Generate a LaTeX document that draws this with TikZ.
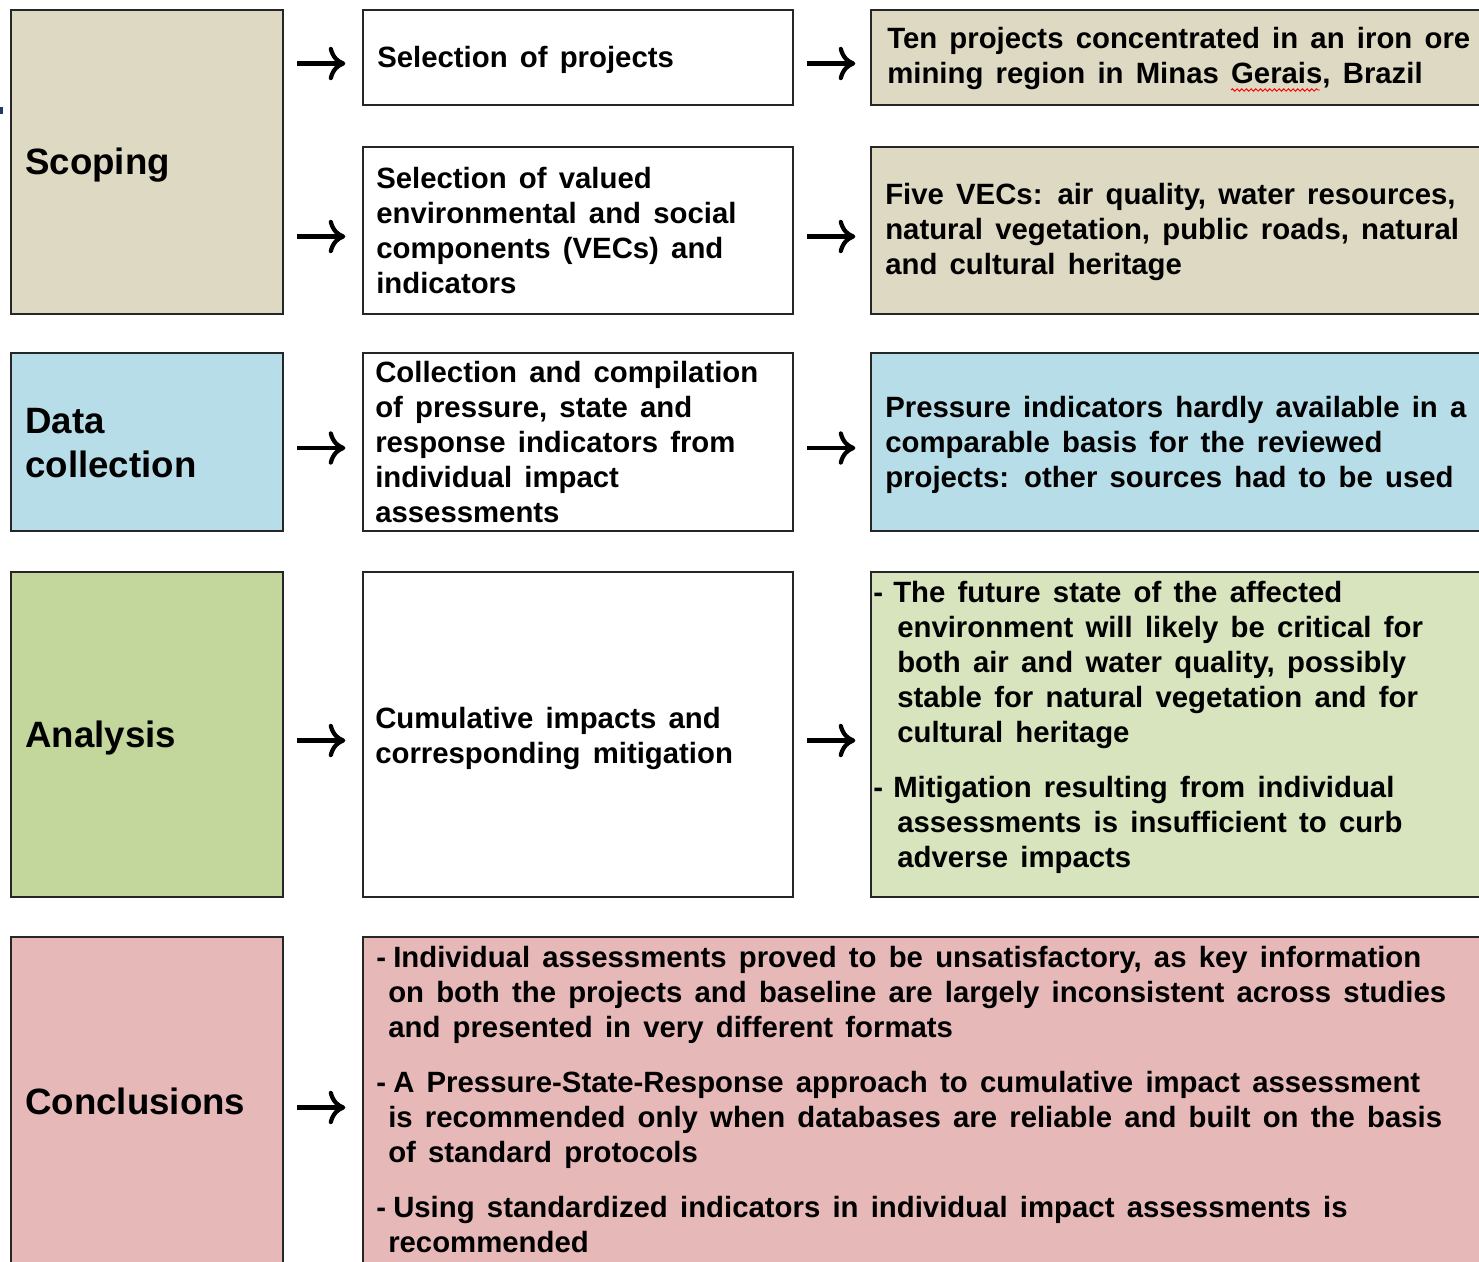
\documentclass[tikz,border=0pt]{standalone}
\usepackage{fontspec}
\setmainfont{Liberation Sans}
\newfontfamily\widefont{Liberation Sans}[WordSpace=1.5]
\usetikzlibrary{arrows.meta,calc,fit,decorations.pathmorphing}

\definecolor{beige}{HTML}{DDD9C3}
\definecolor{aqua}{HTML}{B7DEE8}
\definecolor{olive}{HTML}{C3D69B}
\definecolor{lolive}{HTML}{D7E4BD}
\definecolor{rose}{HTML}{E6B9B8}
\definecolor{edge}{HTML}{262626}
\definecolor{markblue}{HTML}{1F3864}

% bullet dash and hanging indent helpers
\newcommand\rdash{\makebox[15pt][l]{-}}
\newcommand\rind{\hspace*{18pt}}
\newcommand\cdash{\makebox[12.75pt][l]{-}}
\newcommand\cind{\hspace*{9pt}}

\begin{document}
\begin{tikzpicture}[x=0.75pt,y=-0.75pt,
  box/.style={draw=edge, line width=1.5pt, inner sep=0pt},
  stage/.style={anchor=west, inner sep=0pt, align=left,
    font=\fontsize{27.5}{32.5}\selectfont\bfseries},
  body/.style={anchor=west, inner sep=0pt, align=left,
    font=\widefont\fontsize{22}{26.25}\selectfont\bfseries},
  arr/.style={line width=3.2pt,
    -{Computer Modern Rightarrow[length=12.5pt,width=25pt]},
    shorten <=10pt, shorten >=12.5pt},
  spell/.style={red, line width=0.7pt, decorate,
    decoration={snake, amplitude=0.9pt, segment length=3.5pt}}]

\useasboundingbox (0,0) rectangle (1479,1262);
\clip (0,0) rectangle (1479,1262);

% small mark at the left edge
\fill[markblue] (0,107) rectangle (3,114);

% ---- boxes ----
\node[box, fill=beige,  fit={(11,10)(283,314)}]    (scop)  {};
\node[box, fill=white,  fit={(363,10)(793,105)}]   (sel1)  {};
\node[box, fill=beige,  fit={(871,10)(1495,105)}]  (res1)  {};
\node[box, fill=white,  fit={(363,147)(793,314)}]  (sel2)  {};
\node[box, fill=beige,  fit={(871,147)(1495,314)}] (res2)  {};

\node[box, fill=aqua,   fit={(11,353)(283,531)}]   (data)  {};
\node[box, fill=white,  fit={(363,353)(793,531)}]  (coll)  {};
\node[box, fill=aqua,   fit={(871,353)(1495,531)}] (res3)  {};

\node[box, fill=olive,  fit={(11,572)(283,897)}]   (anal)  {};
\node[box, fill=white,  fit={(363,572)(793,897)}]  (cumu)  {};
\node[box, fill=lolive, fit={(871,572)(1495,897)}] (res4)  {};

\node[box, fill=rose,   fit={(11,937)(283,1266)}]  (conc)  {};
\node[box, fill=rose,   fit={(363,937)(1495,1266)}] (res5) {};

% ---- stage labels ----
\node[stage] (tscop) at (25,165) {Scoping};
\node[stage] (tdata) at (25,443) {Data\\collection};
\node[stage] (tanal) at (25,738) {Analysis};
\node[stage] (tconc) at (25,1101) {Conclusions};

% ---- step texts ----
\node[body] (tsel1) at (377,60) {Selection of projects};
\node[body] (tsel2) at (376,231) {Selection of valued\\environmental and social\\components (VECs) and\\indicators};
\node[body] (tcoll) at (375,442) {Collection and compilation\\of pressure, state and\\response indicators from\\individual impact\\assessments};
\node[body] (tcumu) at (375,738) {Cumulative impacts and\\corresponding mitigation};

% ---- result texts ----
\node[body] (tres1) at (887,58) {Ten projects concentrated in an iron ore\\mining region in Minas Gerais, Brazil};
\node[body] (tres2) at (885,232) {Five VECs: air quality, water resources,\\natural vegetation, public roads, natural\\and cultural heritage};
\node[body] (tres3) at (885,445) {Pressure indicators hardly available in a\\comparable basis for the reviewed\\projects: other sources had to be used};
\node[body] (tres4) at (873,727) {\rdash The future state of the affected\\
  \rind environment will likely be critical for\\
  \rind both air and water quality, possibly\\
  \rind stable for natural vegetation and for\\
  \rind cultural heritage\\[15pt]
  \rdash Mitigation resulting from individual\\
  \rind assessments is insufficient to curb\\
  \rind adverse impacts};
\node[body] (tres5) at (376,1100) {\cdash Individual assessments proved to be unsatisfactory, as key information\\
  \cind on both the projects and baseline are largely inconsistent across studies\\
  \cind and presented in very different formats\\[15pt]
  \cdash A Pressure-State-Response approach to cumulative impact assessment\\
  \cind is recommended only when databases are reliable and built on the basis\\
  \cind of standard protocols\\[15pt]
  \cdash Using standardized indicators in individual impact assessments is\\
  \cind recommended};

% spell-check underline beneath "Gerais"
\draw[spell] (1231,90) -- (1320,90);

% ---- arrows ----
\coordinate (y1) at ($(sel1.west)+(0,6)$);
\coordinate (y2) at ($(sel2.west)+(0,6)$);
\coordinate (y3) at ($(coll.west)+(0,6)$);
\coordinate (y4) at ($(cumu.west)+(0,6)$);
\coordinate (y5) at ($(res5.west)+(0,6)$);

\draw[arr] (scop.east |- y1) -- (sel1.west |- y1);
\draw[arr] (scop.east |- y2) -- (sel2.west |- y2);
\draw[arr] (data.east |- y3) -- (coll.west |- y3);
\draw[arr] (anal.east |- y4) -- (cumu.west |- y4);
\draw[arr] (conc.east |- y5) -- (res5.west |- y5);

\draw[arr, shorten >=11pt] (sel1.east |- y1) -- (res1.west |- y1);
\draw[arr, shorten >=11pt] (sel2.east |- y2) -- (res2.west |- y2);
\draw[arr, shorten >=11pt] (coll.east |- y3) -- (res3.west |- y3);
\draw[arr, shorten >=11pt] (cumu.east |- y4) -- (res4.west |- y4);
\end{tikzpicture}
\end{document}
